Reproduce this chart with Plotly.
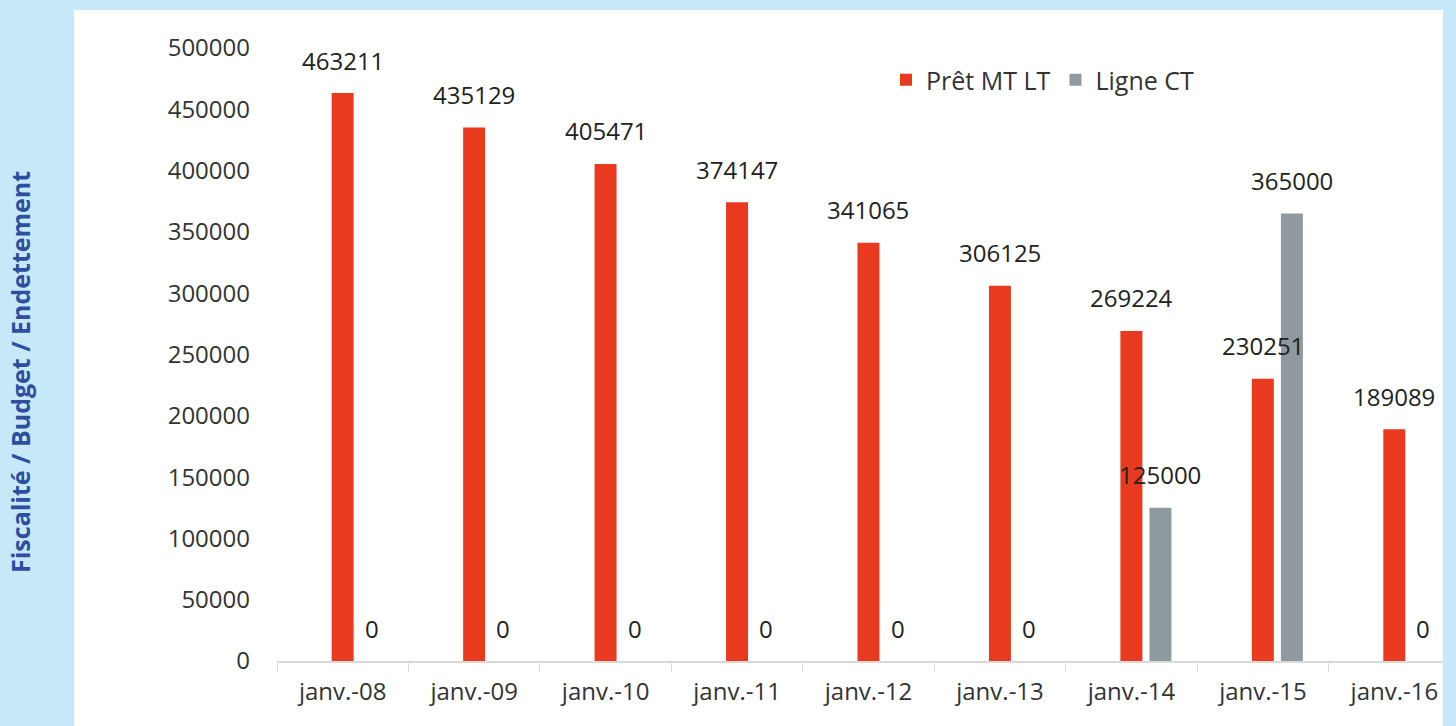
import plotly.graph_objects as go

categories = ["janv.-08", "janv.-09", "janv.-10", "janv.-11", "janv.-12",
              "janv.-13", "janv.-14", "janv.-15", "janv.-16"]
pret_mt_lt = [463211, 435129, 405471, 374147, 341065, 306125, 269224, 230251, 189089]
ligne_ct = [0, 0, 0, 0, 0, 0, 125000, 365000, 0]
y_ticks = [0, 50000, 100000, 150000, 200000, 250000, 300000, 350000, 400000, 450000, 500000]

RED = "#E9391F"
GRAY = "#8F9A9E"
BLUE_BG = "#C6E8F8"
TXT = "#333333"
FONT = "Open Sans"
FS = 24

BAR_W = 0.167
RED_OFF = -0.084
GRAY_OFF = 0.137

W, H = 1456, 726
L, R, T, B = 277, 13, 48, 65
pw = W - L - R
ph = H - T - B
X_MAX = 8.37
cat_px = pw / (X_MAX + 0.5)


def px_x(p):
    return (p - L) / pw


def px_y(p):
    return (H - B - p) / ph


fig = go.Figure()
fig.add_trace(go.Bar(x=categories, y=pret_mt_lt, name="Prêt MT LT",
                     marker=dict(color=RED, line=dict(width=0)),
                     width=BAR_W, offset=RED_OFF))
fig.add_trace(go.Bar(x=categories, y=ligne_ct, name="Ligne CT",
                     marker=dict(color=GRAY, line=dict(width=0)),
                     width=BAR_W, offset=GRAY_OFF))

for c, v in zip(categories, pret_mt_lt):
    fig.add_annotation(x=c, y=v, text=str(v), showarrow=False, yanchor="middle",
                       yshift=33, xshift=(RED_OFF + BAR_W / 2) * cat_px,
                       font=dict(family=FONT, size=FS, color="#222222"))
for c, v in zip(categories, ligne_ct):
    fig.add_annotation(x=c, y=v, text=str(v), showarrow=False, yanchor="middle",
                       yshift=33, xshift=(GRAY_OFF + BAR_W / 2) * cat_px,
                       font=dict(family=FONT, size=FS, color="#222222"))

# white chart card over light-blue frame
fig.add_shape(type="rect", xref="paper", yref="paper", layer="below",
              x0=px_x(74), x1=px_x(1443), y0=px_y(740), y1=px_y(10),
              fillcolor="white", line=dict(width=0))

fig.add_annotation(text="<b>Fiscalité / Budget / Endettement</b>", textangle=-90,
                   xref="paper", yref="paper", x=px_x(20), y=px_y(372),
                   showarrow=False, xanchor="center", yanchor="middle",
                   font=dict(family=FONT, size=25, color="#2E4FA0"))

fig.update_layout(
    width=W, height=H,
    margin=dict(l=L, r=R, t=T, b=B, autoexpand=False),
    paper_bgcolor=BLUE_BG, plot_bgcolor="rgba(0,0,0,0)",
    barmode="overlay",
    showlegend=True,
    legend=dict(orientation="h", x=px_x(886), y=px_y(80),
                xanchor="left", yanchor="middle",
                font=dict(family=FONT, size=25, color=TXT),
                bgcolor="rgba(0,0,0,0)", itemwidth=30),
    font=dict(family=FONT, color=TXT),
    xaxis=dict(range=[-0.5, X_MAX], showline=True, linecolor="#D9D9D9", linewidth=1.5,
               ticks="outside", tickson="boundaries", ticklen=9, tickcolor="#D9D9D9",
               tickfont=dict(family=FONT, size=FS, color=TXT), showgrid=False,
               ticklabelstandoff=8),
    yaxis=dict(range=[0, 500000], tickvals=y_ticks, tickformat="d",
               showgrid=False, zeroline=False,
               showline=False, tickfont=dict(family=FONT, size=FS, color=TXT),
               ticklabelstandoff=26),
)

fig.write_html("out.html", config={"displayModeBar": False},
               post_script="document.body.style.margin='0';document.body.style.padding='0';")
